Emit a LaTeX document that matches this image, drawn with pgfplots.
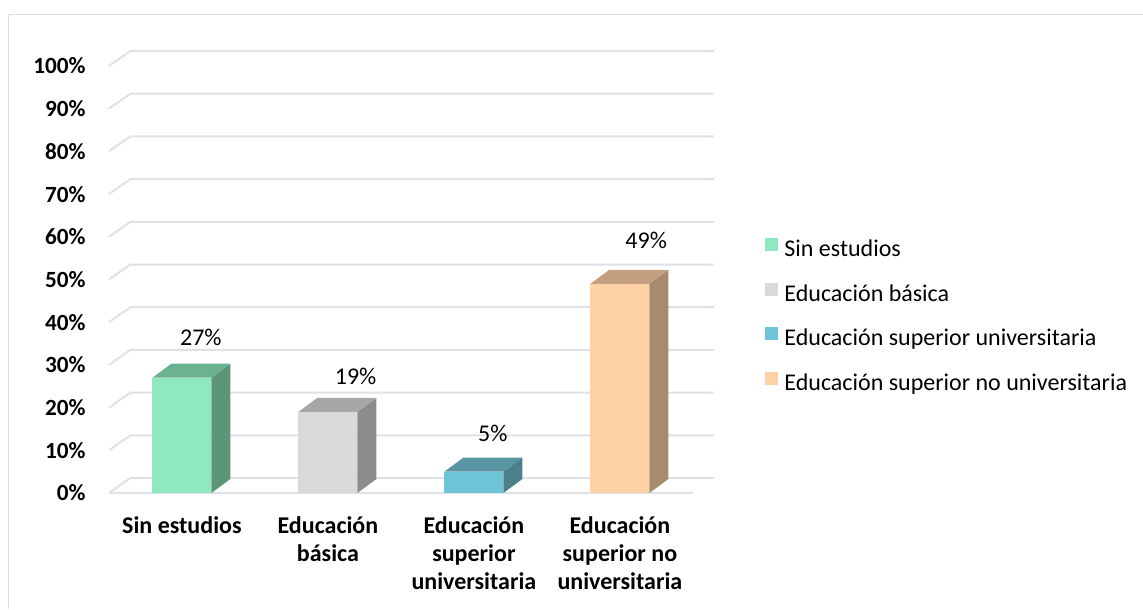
\documentclass[border=0pt]{standalone}
\usepackage{fontspec}
\setmainfont{Carlito}
\usepackage{pgfplots}
\pgfplotsset{compat=1.18}

\definecolor{gridc}{HTML}{DDE1E8}
\definecolor{framec}{HTML}{D9DEE6}
\definecolor{gF}{HTML}{8EE9C0}\definecolor{gS}{HTML}{5C9678}\definecolor{gT}{HTML}{6AB290}
\definecolor{aF}{HTML}{D9D9D9}\definecolor{aS}{HTML}{8C8C8C}\definecolor{aT}{HTML}{A6A6A6}
\definecolor{bF}{HTML}{6EC4D6}\definecolor{bS}{HTML}{4A7F8B}\definecolor{bT}{HTML}{5896A4}
\definecolor{pF}{HTML}{FFD2A6}\definecolor{pS}{HTML}{A88A6C}\definecolor{pT}{HTML}{C4A07F}

\pgfplotsset{sqlegend/.style={legend image code/.code={\fill[##1,/tikz/.cd] (0pt,0pt) rectangle (6.5pt,6.5pt);}}}

% #1 category position, #2 value, #3 front, #4 side, #5 top colour
\newcommand{\threedbar}[5]{%
  \pgfmathsetmacro\xl{#1-0.202}%
  \pgfmathsetmacro\xr{#1+0.202}%
  \pgfmathsetmacro\xb{#1+0.332}%
  \pgfmathsetmacro\xbl{#1-0.072}%
  \pgfmathsetmacro\vt{#2+3.28}%
  \addplot[fill=#4, draw=none, forget plot] coordinates {(\xr,0) (\xb,3.28) (\xb,\vt) (\xr,#2)};
  \addplot[fill=#5, draw=none, forget plot] coordinates {(\xl,#2) (\xr,#2) (\xb,\vt) (\xbl,\vt)};
  \addplot[ybar, bar width=29.5pt, bar shift=0pt, fill=#3, draw=none, sqlegend] coordinates {(#1,#2)};
}

\begin{document}
\begin{tikzpicture}
\useasboundingbox (0,0) rectangle (571.5pt,-304.5pt);
\draw[framec, line width=0.75pt] (4.25pt,-304.5pt) -- (4.25pt,-7.25pt) -- (571.5pt,-7.25pt);
\begin{axis}[
  at={(54.45pt,-246.5pt)}, anchor=south west,
  scale only axis, width=292pt, height=213.5pt,
  xmin=-0.5, xmax=3.5, ymin=0, ymax=100,
  clip=false,
  axis line style={draw=none},
  major tick length=0pt, tick style={draw=none},
  xtick={0,1,2,3},
  xticklabels={{Sin estudios},{Educación\\básica},{Educación\\superior\\universitaria},{Educación\\superior no\\universitaria}},
  ytick={0,10,20,30,40,50,60,70,80,90,100},
  yticklabels={0\%,10\%,20\%,30\%,40\%,50\%,60\%,70\%,80\%,90\%,100\%},
  yticklabel style={font=\fontsize{11.6}{13}\selectfont\bfseries, anchor=east, inner sep=0pt, xshift=-11.5pt},
  xticklabel style={font=\fontsize{12}{14}\selectfont\bfseries, align=center, anchor=north, inner sep=0pt, yshift=-11.5pt},
  legend style={at={(1.1235,0.413)}, anchor=west, draw=none, fill=none, inner sep=0pt,
    row sep=10.45pt, column sep=3pt, font=\fontsize{12}{14}\selectfont,
    nodes={inner sep=0pt, text height=8pt, text depth=2.5pt}, cells={anchor=west}},
]
% grid: front-left diagonal and back wall line
\pgfplotsinvokeforeach{0,10,20,30,40,50,60,70,80,90,100}{%
  \pgfmathsetmacro\gy{#1+3.51}%
  \addplot[gridc, line width=1pt, forget plot] coordinates {(-0.5,#1) (-0.353,\gy) (3.644,\gy)};
}
\addplot[gridc, line width=1pt, forget plot] coordinates {(-0.5,0) (3.5,0)};

\threedbar{0}{27}{gF}{gS}{gT}
\threedbar{1}{19}{aF}{aS}{aT}
\threedbar{2}{5}{bF}{bS}{bT}
\threedbar{3}{49}{pF}{pS}{pT}

\addplot[forget plot, draw=none, mark=none, nodes near coords=\pgfplotspointmeta,
  point meta=explicit symbolic,
  every node near coord/.append style={anchor=center, font=\fontsize{12}{14}\selectfont, inner sep=0pt}]
  coordinates {(0.13,36.5) [27\%] (1.19,27.4) [19\%] (2.13,14.05) [5\%] (3.18,59.25) [49\%]};

\legend{Sin estudios, Educación básica, Educación superior universitaria, Educación superior no universitaria}
\end{axis}
\end{tikzpicture}
\end{document}
